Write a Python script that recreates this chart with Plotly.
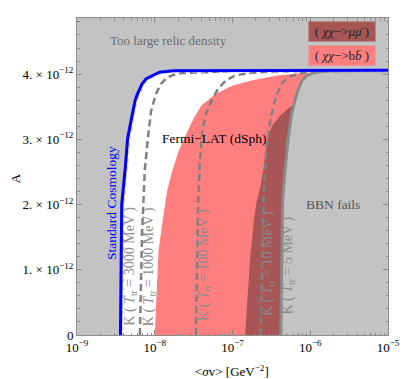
import math
import plotly.graph_objects as go

# ---------------- data ----------------
# Standard cosmology (blue)
std_sv = [3.62e-9, 3.65e-9, 3.76e-9, 4.18e-9, 4.47e-9, 4.97e-9, 5.57e-9, 6.01e-9,
          6.88e-9, 7.79e-9, 9.91e-9, 1.15e-8, 1.76e-8, 1e-5]
std_A = [0.0, 0.99, 2.00, 2.57, 3.01, 3.29, 3.59, 3.70, 3.85, 3.93, 3.99, 4.03, 4.05, 4.06]

# K (T_tr = 3000 MeV)
k3000_sv = [3.92e-9, 3.98e-9, 4.10e-9, 4.53e-9, 4.87e-9, 5.38e-9, 6.04e-9, 6.59e-9,
            7.50e-9, 8.66e-9, 1.09e-8, 1.30e-8, 1.94e-8, 1e-5]
k3000_A = [0.0, 0.99, 2.00, 2.57, 3.01, 3.29, 3.59, 3.70, 3.85, 3.92, 3.98, 4.01, 4.04, 4.05]

# K (T_tr = 1000 MeV)
k1000_sv = [6.44e-9, 6.59e-9, 6.88e-9, 7.08e-9, 7.43e-9, 8.18e-9, 8.99e-9, 1.04e-8,
            1.20e-8, 1.45e-8, 1.94e-8, 4.60e-8, 1.09e-7]
k1000_A = [0.0, 0.84, 1.61, 1.91, 2.52, 3.03, 3.44, 3.70, 3.85, 3.95, 4.01, 4.03, 4.05]

# K (T_tr = 100 MeV)
k100_sv = [3.38e-8, 3.50e-8, 3.62e-8, 3.81e-8, 4.10e-8, 4.60e-8, 5.57e-8, 6.49e-8,
           8.18e-8, 1.09e-7, 1.76e-7, 3.98e-7, 1.09e-6]
k100_A = [0.0, 0.99, 2.06, 2.68, 3.13, 3.41, 3.63, 3.77, 3.90, 3.98, 4.02, 4.04, 4.05]

# K (T_tr = 10 MeV)
k10_sv = [2.30e-7, 2.41e-7, 2.51e-7, 2.72e-7, 3.13e-7, 3.65e-7, 4.38e-7, 5.57e-7,
          8.18e-7, 1.45e-6, 3.45e-6]
k10_A = [0.0, 0.99, 2.06, 2.83, 3.36, 3.67, 3.87, 3.97, 4.02, 4.04, 4.05]

# K (T_tr = 5 MeV) = BBN boundary
bbn_sv = [4.18e-7, 4.28e-7, 4.41e-7, 4.73e-7, 5.16e-7, 5.70e-7, 6.31e-7, 7.08e-7,
          7.94e-7, 9.17e-7, 1.12e-6, 1.68e-6, 1e-5]
bbn_A = [0.0, 0.99, 2.06, 2.52, 2.98, 3.36, 3.59, 3.78, 3.91, 3.98, 4.02, 4.05, 4.05]

# Fermi-LAT (dSph) b-bbar excluded region: left boundary
bb_sv = [1.00e-8, 1.04e-8, 1.12e-8, 1.32e-8, 1.45e-8, 1.68e-8, 2.04e-8, 2.66e-8,
         3.16e-8, 3.98e-8, 6.13e-8, 9.91e-8, 1.76e-7, 3.76e-7, 8.91e-7]
bb_A = [0.0, 0.54, 1.30, 1.91, 2.22, 2.52, 2.83, 3.13, 3.32, 3.52, 3.70, 3.82, 3.90, 3.98, 4.02]

# Fermi-LAT (dSph) mu-mubar excluded region: left boundary
mm_sv = [1.45e-7, 1.54e-7, 1.68e-7, 1.88e-7, 2.05e-7, 2.30e-7, 2.48e-7, 2.79e-7,
         3.25e-7, 4.10e-7, 5.16e-7, 6.31e-7]
mm_A = [0.0, 0.54, 1.15, 1.76, 2.06, 2.29, 2.52, 2.98, 3.21, 3.36, 3.47, 3.55]

x_ticks = [1e-9, 1e-8, 1e-7, 1e-6, 1e-5]
x_ticktext = ["10<sup>−9</sup>", "10<sup>−8</sup>", "10<sup>−7</sup>", "10<sup>−6</sup>", "10<sup>−5</sup>"]
y_ticks = [0, 1, 2, 3, 4]
y_ticktext = ["0", "1. × 10<sup>−12</sup>", "2. × 10<sup>−12</sup>",
              "3. × 10<sup>−12</sup>", "4. × 10<sup>−12</sup>"]

X_MIN, X_MAX = 1e-9, 1e-5
Y_MAX = 4.86

# ---------------- styles ----------------
GRAY_BG = "#c3c3c3"
RED = "#ff7f7f"
DARK_RED = "#a85555"
SERIF = "Liberation Serif, Times New Roman, serif"

fig = go.Figure()


def poly(xs, ys, color):
    fig.add_trace(go.Scatter(x=xs, y=ys, mode="lines", line=dict(width=0),
                             fill="toself", fillcolor=color, hoverinfo="skip",
                             showlegend=False))


def line(xs, ys, color, width, dash="solid"):
    fig.add_trace(go.Scatter(x=xs, y=ys, mode="lines",
                             line=dict(color=color, width=width, dash=dash),
                             hoverinfo="skip", showlegend=False))


# allowed region (white)
poly(k3000_sv + [X_MAX, X_MAX], k3000_A + [k3000_A[-1], 0], "white")
# b-bbar region
poly(bb_sv + [X_MAX, X_MAX], bb_A + [bb_A[-1], 0], RED)
# mu-mubar region
poly(mm_sv + [X_MAX, X_MAX], mm_A + [mm_A[-1], 0], DARK_RED)
# BBN fails region
poly(bbn_sv + [X_MAX], bbn_A + [0], GRAY_BG)

dash_style = "7px,4px"
line(k1000_sv, k1000_A, "#808080", 2.5, dash_style)
line(k100_sv, k100_A, "#808080", 2.5, dash_style)
line(k10_sv, k10_A, "#808080", 2.5, dash_style)
line(bbn_sv, bbn_A, "#8a8a8a", 3)
line(k3000_sv, k3000_A, "white", 2, "5px,3px")
line(std_sv, std_A, "#0000ff", 3)


def lx(v):
    return math.log10(v)


ann = []


def text(x, y, s, color, size=13, angle=0, xa="center", ya="middle", **kw):
    ann.append(dict(x=x, y=y, xref="x", yref="y", text=s, showarrow=False,
                    textangle=angle, xanchor=xa, yanchor=ya,
                    font=dict(family=SERIF, size=size, color=color), **kw))


text(lx(1.5e-8), 4.51, "Too large relic density", "#6e6e6e", 13)
text(lx(5.87e-8), 3.01, "Fermi−LAT (dSph)", "black", 13.5)
text(lx(1.98e-6), 2.00, "BBN fails", "#555555", 13.5)

text(lx(2.82e-9), 1.12, "Standard Cosmology", "#0000ff", 13.5, -90, ya="bottom")
text(lx(4.83e-9), 0.107, "K ( <i>T</i><sub>tr</sub> = 3000 MeV )", "#8a8a8a", 14, -90, ya="bottom")
text(lx(8.6e-9), 0.107, "K ( <i>T</i><sub>tr</sub> = 1000 MeV )", "#8a8a8a", 14, -90, ya="bottom")
text(lx(4.38e-8), 0.18, "K ( <i>T</i><sub>tr</sub> = 100 MeV )", "#8a8a8a", 14, -90, ya="bottom")
text(lx(2.9e-7), 0.26, "K ( <i>T</i><sub>tr</sub> = 10 MeV )", "#8a8a8a", 14, -90, ya="bottom")
text(lx(5.3e-7), 0.28, "K ( <i>T</i><sub>tr</sub> = 5 MeV )", "#8a8a8a", 14, -90, ya="bottom")

# legend boxes
text(lx(2.565e-6), 4.65, "( <i>χχ</i>−&gt;<i>μμ̄</i> )", "#222222", 13,
     bgcolor=DARK_RED, width=64, height=17)
text(lx(2.565e-6), 4.28, "( <i>χχ</i>−&gt;b<i>b̄</i> )", "#222222", 13,
     bgcolor=RED, width=64, height=17)

# axis titles
ann.append(dict(x=-0.197, y=0.494, xref="paper", yref="paper", text="A", showarrow=False,
                textangle=-90, xanchor="center", yanchor="middle",
                font=dict(family=SERIF, size=13, color="black")))
ann.append(dict(x=0.499, y=-0.115, xref="paper", yref="paper",
                text="&lt;<i>σ</i>v&gt; [GeV<sup>−2</sup>]", showarrow=False,
                xanchor="center", yanchor="middle",
                font=dict(family=SERIF, size=13, color="black")))

axis_common = dict(showgrid=False, zeroline=False, showline=True, linecolor="#8c8c8c",
                   linewidth=1, mirror="allticks", ticks="inside", ticklen=5,
                   tickcolor="#8c8c8c", tickfont=dict(family=SERIF, size=13, color="black"))

# page body keeps its default 8px margin, so the figure is sized to fill the rest
fig.update_layout(
    width=401, height=371,
    margin=dict(l=69, r=12, t=9, b=44),
    paper_bgcolor="white", plot_bgcolor=GRAY_BG,
    annotations=ann,
    xaxis=dict(type="log", range=[lx(X_MIN), lx(X_MAX)], tickvals=x_ticks,
               ticktext=x_ticktext,
               minor=dict(ticks="inside", ticklen=2.5, tickcolor="#8c8c8c", dtick="D1"),
               **axis_common),
    yaxis=dict(range=[0, Y_MAX], tickvals=y_ticks, ticktext=y_ticktext,
               minor=dict(ticks="inside", ticklen=2.5, tickcolor="#8c8c8c", dtick=0.2),
               **axis_common),
)

fig.write_html("out.html", config={"displayModeBar": False, "responsive": False})
